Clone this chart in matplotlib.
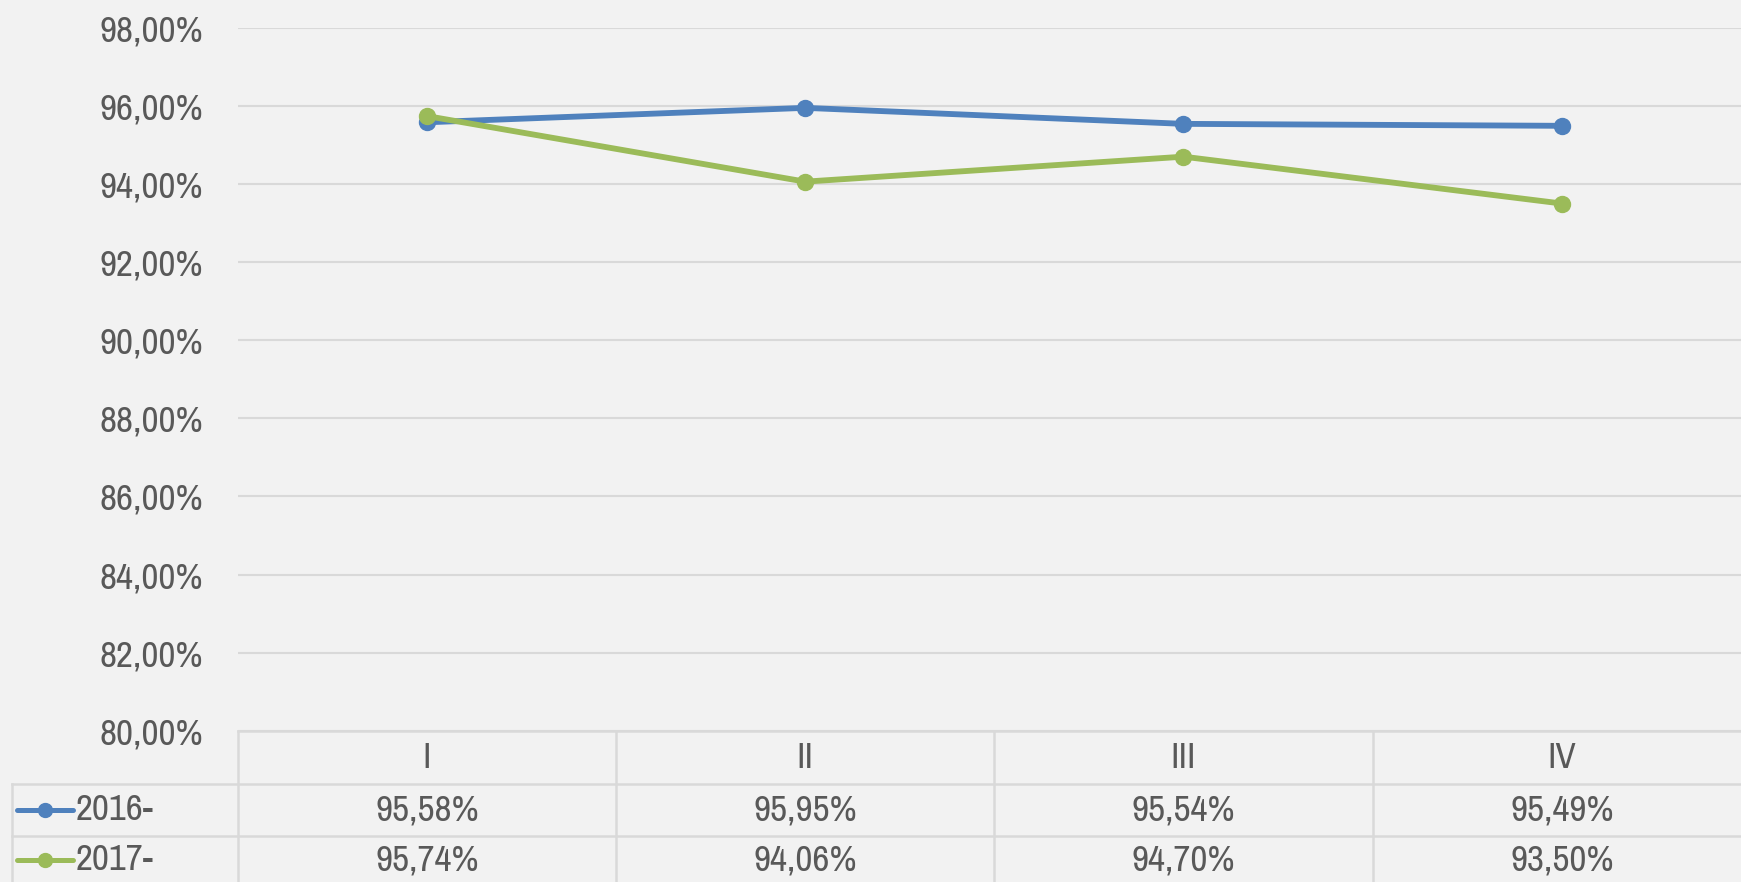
import numpy as np
import matplotlib.pyplot as plt
import matplotlib.transforms as mtransforms
from matplotlib.lines import Line2D
from matplotlib.ticker import FuncFormatter, MultipleLocator


# ---  DATA  --- #
# -------------- #
categories = ['I', 'II', 'III', 'IV']
series_names = ['2016-', '2017-']
values_2016 = [95.58, 95.95, 95.54, 95.49]
values_2017 = [95.74, 94.06, 94.70, 93.50]
series_colors = ['#4f81bd', '#9bbb59']


# ---  HELPERS  --- #
# ----------------- #
W, H = 1741, 882
TEXT_COLOR = '#595959'
GRID_COLOR = '#d9d9d9'
FS = 29


def fx(px):
    return px / W


def fy(py):
    # pixel row (from top) -> figure fraction
    return 1 - py / H


def pct(v):
    return f'{v:.2f}'.replace('.', ',') + '%'


# ---   MAIN   --- #
# ---------------- #
plt.rcParams['font.family'] = ['Pragati Narrow', 'Liberation Sans', 'DejaVu Sans']
fig = plt.figure(figsize=(W / 100, H / 100), dpi=100, facecolor='#f2f2f2')

# Axes geometry: column width 378.3 px, first column starts at 237.7 px
x_left, col_w = 237.7, 378.3
y_top, y_bottom = 27.8, 730.7
ax = fig.add_axes([fx(x_left), fy(y_bottom), fx(4 * col_w), (y_bottom - y_top) / H])
ax.set_facecolor('none')

x = np.arange(len(categories))
for vals, color in zip([values_2016, values_2017], series_colors):
    ax.plot(x, vals, color=color, lw=4.2, marker='o', ms=11.5,
            solid_capstyle='round', clip_on=False, zorder=3)

ax.set_xlim(-0.5, len(categories) - 0.5)
ax.set_ylim(80, 98)
ax.yaxis.set_major_locator(MultipleLocator(2))
ax.yaxis.set_major_formatter(FuncFormatter(lambda v, _: pct(v)))
ax.set_xticks([])
ax.tick_params(axis='y', length=0, pad=25, labelsize=FS, labelcolor=TEXT_COLOR)
ax.grid(axis='y', color=GRID_COLOR, lw=1.5)
ax.set_axisbelow(True)
for s in ax.spines.values():
    s.set_visible(False)

# ---  DATA TABLE  --- #
trans = mtransforms.blended_transform_factory(ax.transData, fig.transFigure)
ftrans = fig.transFigure
row_tops = [730.7, 784.3, 835.7]
label_left = 11.7
table_kw = dict(color=GRID_COLOR, lw=1.8, clip_on=False)

# horizontal lines
fig.add_artist(Line2D([-0.5, 3.6], [fy(row_tops[0])] * 2, transform=trans, **table_kw))
for r in row_tops[1:]:
    fig.add_artist(Line2D([fx(label_left), 1.01], [fy(r)] * 2, transform=ftrans, **table_kw))
# vertical lines
for b in np.arange(len(categories) + 1) - 0.5:
    fig.add_artist(Line2D([b, b], [fy(row_tops[0]), 0], transform=trans, **table_kw))
fig.add_artist(Line2D([fx(label_left)] * 2, [fy(row_tops[1]), 0], transform=ftrans, **table_kw))

# header texts
for i, c in enumerate(categories):
    fig.text(i, fy(757.5), c, transform=trans, ha='center', va='center',
             fontsize=FS, color=TEXT_COLOR)

# series rows
row_centers = [810, 860]
for name, vals, color, yc in zip(series_names, [values_2016, values_2017],
                                 series_colors, row_centers):
    fig.add_artist(Line2D([fx(17), fx(73)], [fy(yc)] * 2, transform=ftrans,
                          color=color, lw=3.6, solid_capstyle='round'))
    fig.add_artist(Line2D([fx(45)], [fy(yc)], transform=ftrans, color=color,
                          marker='o', ms=10, ls='none'))
    fig.text(fx(76), fy(yc), name, ha='left', va='center', fontsize=FS,
             color=TEXT_COLOR)
    for i, v in enumerate(vals):
        fig.text(i, fy(yc), pct(v), transform=trans, ha='center', va='center',
                 fontsize=FS, color=TEXT_COLOR)

plt.savefig('out.png', dpi=100, facecolor=fig.get_facecolor())
